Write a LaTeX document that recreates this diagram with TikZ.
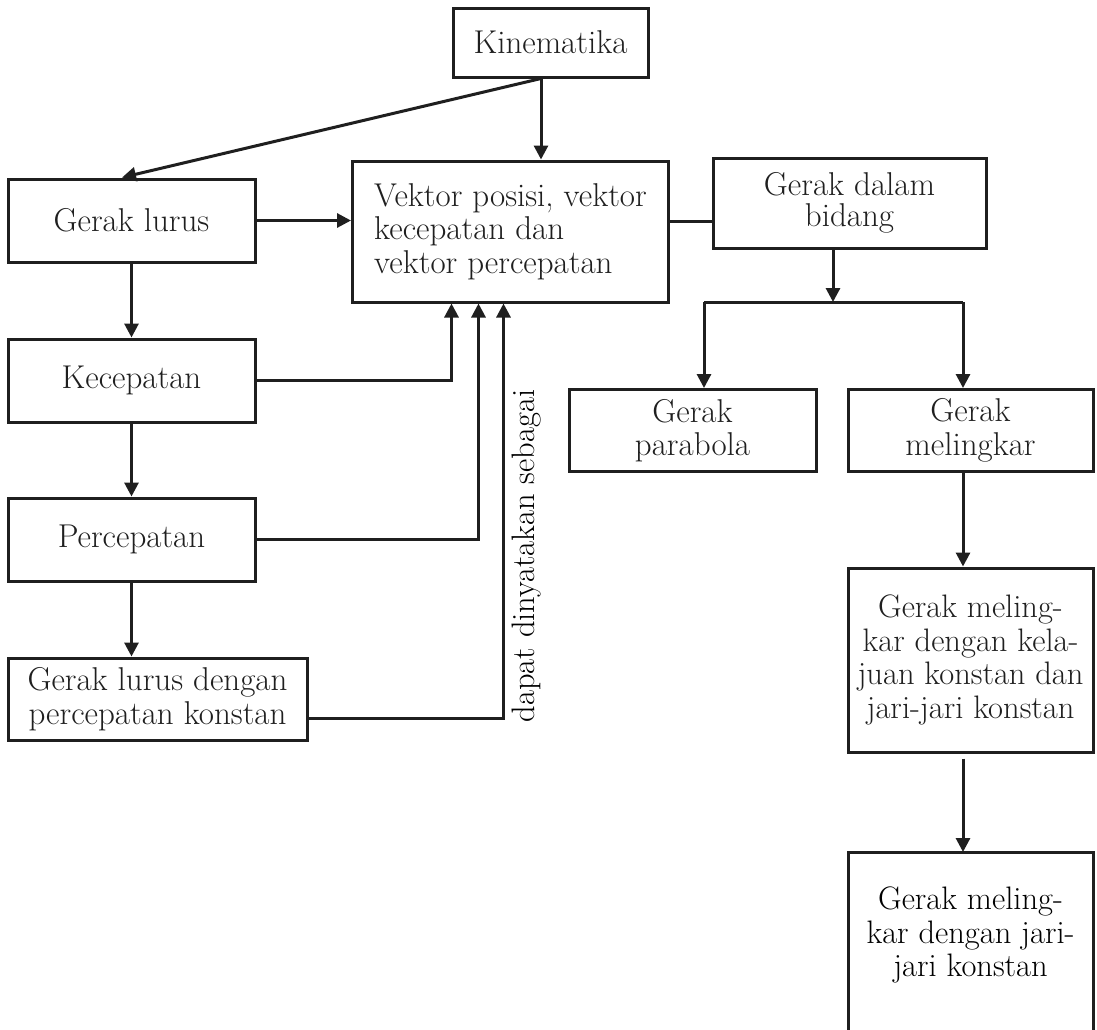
\documentclass[tikz,border=0pt]{standalone}
\usetikzlibrary{arrows.meta}
\begin{document}
\begin{tikzpicture}[x=1pt,y=-1pt,
  every node/.style={font=\fontsize{33}{33.5}\selectfont},
  box/.style={draw, line width=3pt, inner sep=0pt, align=center, color=black!88},
  arr/.style={line width=3pt, color=black!88, -{Triangle[width=14pt,length=14pt]}},
  ln/.style={line width=3pt, color=black!88}]
\useasboundingbox (0,0) rectangle (1097,1029);
% nodes (boxes)
\node[box, minimum width=195pt, minimum height=69pt] (kin) at (550.5,42.5) {Kinematika};
\node[box, minimum width=247pt, minimum height=83pt] (glurus) at (131.5,220.5) {Gerak lurus};
\node[box, minimum width=316pt, minimum height=141pt, align=left] (vek) at (510.5,231.5) {Vektor posisi, vektor\\kecepatan dan\\vektor percepatan};
\node[box, minimum width=273pt, minimum height=90pt] (bid) at (849.5,203) {Gerak dalam\\[-2pt]bidang};
\node[box, minimum width=247pt, minimum height=83pt] (kec) at (131.5,380.5) {Kecepatan};
\node[box, minimum width=247pt, minimum height=83pt] (per) at (131.5,539.5) {Percepatan};
\node[box, minimum width=299pt, minimum height=82pt] (glk) at (157.5,699) {Gerak lurus dengan\\percepatan konstan};
\node[box, minimum width=247pt, minimum height=82pt] (par) at (692.5,430.5) {Gerak\\parabola};
\node[box, minimum width=245pt, minimum height=82pt] (mel) at (970.5,430.5) {Gerak\\melingkar};
\node[box, minimum width=245pt, minimum height=184pt, font=\fontsize{32.5}{33.5}\selectfont] (kel) at (970.5,660) {Gerak meling-\\kar dengan kela-\\juan konstan dan\\jari-jari konstan};
\node[inner sep=0pt, align=center, font=\fontsize{32.5}{33.5}\selectfont] (last) at (970.5,935) {Gerak meling-\\kar dengan jari-\\jari konstan};
\coordinate (lastTL) at (848,852);
\coordinate (lastTR) at (1093,852);
\draw[ln] (lastTL |- 0,1040) -- (lastTL) -- (lastTR) -- (lastTR |- 0,1040);
% label
\node[rotate=90, inner sep=0pt, font=\fontsize{32.5}{33.5}\selectfont] (lab) at (527,556) {dapat dinyatakan sebagai};
% connectors
\coordinate (kx) at (541,0);
\draw[arr] (kin.south -| kx) -- ([xshift=-9.5pt]glurus.north);
\draw[arr] (kin.south -| kx) -- (vek.north -| kx);
\draw[arr] (glurus.east) -- (glurus.east -| vek.west);
\draw[ln] (vek.east |- 0,221) -- (bid.west |- 0,221);
\draw[arr] (glurus.south) -- (kec.north);
\draw[arr] (kec.south) -- (per.north);
\draw[arr] (per.south) -- (per.south |- glk.north);
\draw[arr] (kec.east) -| ([xshift=-59pt]vek.south);
\draw[arr] (per.east) -| ([xshift=-32pt]vek.south);
\draw[arr] ([yshift=-19pt]glk.east) -| ([xshift=-7pt]vek.south);
\coordinate (jm) at (833,302);
\coordinate (jl) at (704,302);
\coordinate (jr) at (963,302);
\draw[arr] (bid.south -| jm) -- (jm);
\draw[ln] (jl) -- (jr);
\draw[arr] (jl) -- (jl |- par.north);
\draw[arr] (jr) -- (jr |- mel.north);
\draw[arr] (mel.south -| jr) -- (kel.north -| jr);
\draw[arr, shorten <=5pt] (kel.south -| jr) -- (lastTL -| jr);
\end{tikzpicture}
\end{document}
